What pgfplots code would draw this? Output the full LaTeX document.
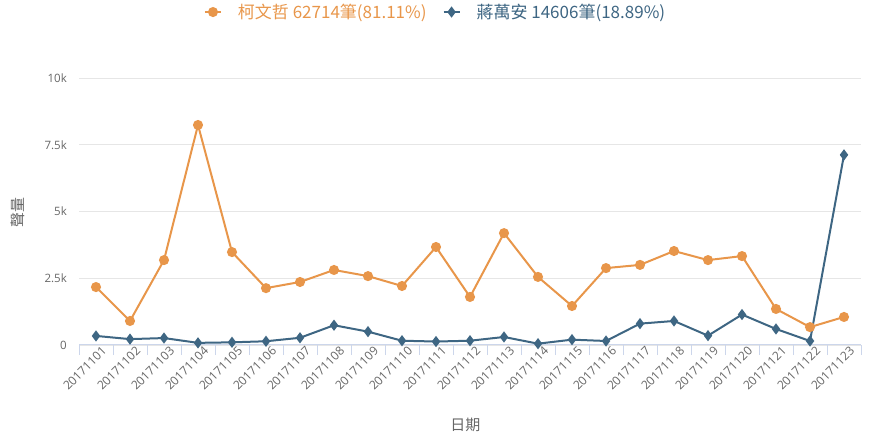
\documentclass[border=0pt]{standalone}
\usepackage{pgfplots}
\pgfplotsset{compat=1.18}
\usepackage{pgfplotstable}
\usepackage{fontspec}
\setmainfont{Open Sans}
\newfontfamily\cjk{Noto Sans CJK TC}
\definecolor{ko}{HTML}{E8964A}
\definecolor{ch}{HTML}{3E6683}
\definecolor{gridc}{HTML}{E6E6E6}
\definecolor{axc}{HTML}{CCD6EB}
\definecolor{txt}{HTML}{666666}

\pgfplotstableread{
x ko ch
0 2170 340
1 900 220
2 3180 260
3 8240 80
4 3480 100
5 2130 140
6 2360 270
7 2810 740
8 2580 500
9 2210 160
10 3670 130
11 1800 160
12 4190 300
13 2550 50
14 1460 200
15 2880 150
16 3000 800
17 3520 900
18 3180 350
19 3330 1140
20 1350 600
21 670 150
22 1050 7120
}\data

\begin{document}
\begin{tikzpicture}[x=1pt,y=1pt]
\useasboundingbox (0,0) rectangle (870,436);
\begin{axis}[
  at={(79pt,91pt)}, anchor=south west,
  scale only axis, width=782pt, height=267pt,
  xmin=-0.5, xmax=22.5, ymin=0, ymax=10000,
  scaled y ticks=false,
  axis x line*=bottom, axis y line*=left,
  axis line style={-},
  x axis line style={draw=axc, line width=1pt},
  y axis line style={draw=none},
  xtick={0,...,22},
  xticklabels={20171101,20171102,20171103,20171104,20171105,20171106,20171107,20171108,20171109,20171110,20171111,20171112,20171113,20171114,20171115,20171116,20171117,20171118,20171119,20171120,20171121,20171122,20171123},
  minor xtick={-0.5,0.5,...,22.5},
  major tick length=0pt,
  minor tick length=10pt,
  tick align=outside,
  minor x tick style={draw=axc, line width=0.8pt},
  ytick={0,2500,5000,7500,10000},
  yticklabels={0,2.5k,5k,7.5k,10k},
  ymajorgrids, major grid style={draw=gridc, line width=0.8pt},
  /pgf/number format/assume math mode=true,
  xticklabel style={rotate=45, anchor=north east, inner sep=1pt, font=\fontsize{12}{14}\selectfont, text=txt, xshift=4pt, yshift=-3pt},
  yticklabel style={font=\fontsize{11.5}{13}\selectfont, text=txt, inner sep=0pt, xshift=-12pt},
  xlabel={\cjk 日期},
  xlabel style={at={(axis description cs:0.494,-0.30)}, anchor=center, font=\fontsize{15}{18}\selectfont, text=txt},
  ylabel={\cjk 聲量},
  ylabel style={at={(axis description cs:-0.078,0.498)}, anchor=center, rotate=0, font=\fontsize{15}{18}\selectfont, text=txt},
  legend columns=2,
  legend style={at={(axis description cs:0.456,1.247)}, anchor=center, draw=none, fill=none,
    font=\fontsize{17}{21}\selectfont, column sep=14pt, inner sep=0pt},
  legend image code/.code={\draw[#1, mark repeat=2, mark phase=2] plot coordinates {(0pt,0pt)(8pt,0pt)(16pt,0pt)};},
  clip=false,
]
\addplot[ko, line width=2pt, mark=*, mark size=4pt, mark options={solid, fill=ko, draw=ko}] table[x=x,y=ko]{\data};
\addlegendentry{\textcolor{ko}{\cjk 柯文哲 62714筆(81.11\%)}}
\addplot[ch, line width=2pt, mark=diamond*, mark size=4pt, mark options={solid, fill=ch, draw=ch}] table[x=x,y=ch]{\data};
\addlegendentry{\textcolor{ch}{\cjk 蔣萬安 14606筆(18.89\%)}}
\end{axis}
\end{tikzpicture}
\end{document}
